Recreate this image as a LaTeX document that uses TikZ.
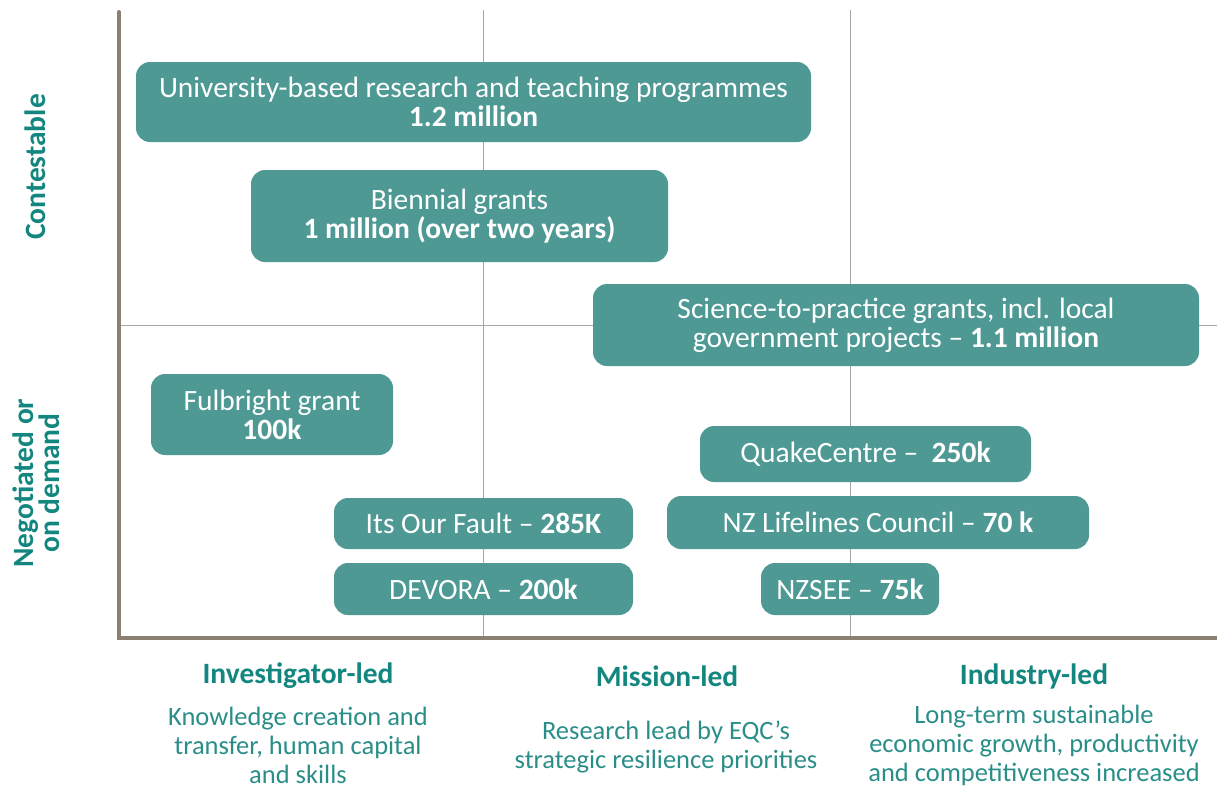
\documentclass[tikz,border=0pt]{standalone}
\usepackage{fontspec}
\setmainfont{Carlito}
\definecolor{boxteal}{HTML}{4E9994}
\definecolor{headteal}{HTML}{13877F}
\definecolor{descteal}{HTML}{2A8E88}
\definecolor{axisbrown}{HTML}{8B8172}
\begin{document}
\begin{tikzpicture}[x=1pt,y=-1pt,
    fundbox/.style={fill=boxteal,text=white,rounded corners=14pt,align=center,inner sep=0pt,
        font=\fontsize{29.5}{29}\selectfont},
    axislabel/.style={text=headteal,font=\bfseries\fontsize{29.5}{26}\selectfont,align=center,rotate=90},
    colhead/.style={text=headteal,font=\bfseries\fontsize{29.5}{30}\selectfont},
    coldesc/.style={text=descteal,font=\fontsize{26.5}{29}\selectfont,align=center}]
    \useasboundingbox (0,0) rectangle (1217,787);

    %Lineas de la grilla
    \draw[gray!70,thin] (483,10) -- (483,638) (850,10) -- (850,638);
    \draw[gray!70,thin] (119,325) -- (1217,325);

    %Ejes
    \draw[axisbrown,line width=4pt,line cap=round] (119,12) -- (119,638) -- (1217,638);

    %Cajas
    \node[fundbox,minimum width=675pt,minimum height=80pt] (univ) at (473.5,102)
        {University-based research and teaching programmes\\\textbf{1.2 million}};
    \node[fundbox,minimum width=417pt,minimum height=92pt] (biennial) at (459.5,216)
        {Biennial grants\\\textbf{1 million (over two years)}};
    \node[fundbox,minimum width=606pt,minimum height=82pt] (science) at (896,325)
        {Science-to-practice grants, incl. local\\government projects -- \textbf{1.1 million}};
    \node[fundbox,minimum width=242pt,minimum height=81pt] (fulbright) at (272,414.5)
        {Fulbright grant\\\textbf{100k}};
    \node[fundbox,minimum width=331pt,minimum height=56pt] (quake) at (865.5,454)
        {QuakeCentre --\ \ \textbf{250k}};
    \node[fundbox,minimum width=299pt,minimum height=51pt] (fault) at (483.5,523.5)
        {Its Our Fault -- \textbf{285K}};
    \node[fundbox,minimum width=422pt,minimum height=53pt] (lifelines) at (878,522.5)
        {NZ Lifelines Council -- \textbf{70 k}};
    \node[fundbox,minimum width=299pt,minimum height=52pt] (devora) at (483.5,589)
        {DEVORA -- \textbf{200k}};
    \node[fundbox,minimum width=178pt,minimum height=52pt] (nzsee) at (850,589)
        {NZSEE -- \textbf{75k}};

    %Etiquetas del eje vertical
    \node[axislabel] (contest) at (35,167) {Contestable};
    \node[axislabel] (negot) at (36,483) {Negotiated or\\on demand};

    %Columnas
    \node[colhead] (invhead) at (298,676) {Investigator-led};
    \node[colhead] (mishead) at (667,676) {Mission-led};
    \node[colhead] (indhead) at (1034,676) {Industry-led};
    \node[coldesc] (invdesc) at (298,745) {Knowledge creation and\\transfer, human capital\\and skills};
    \node[coldesc] (misdesc) at (666,746.5) {Research lead by EQC’s\\strategic resilience priorities};
    \node[coldesc] (inddesc) at (1034,745) {Long-term sustainable\\economic growth, productivity\\and competitiveness increased};
\end{tikzpicture}
\end{document}
